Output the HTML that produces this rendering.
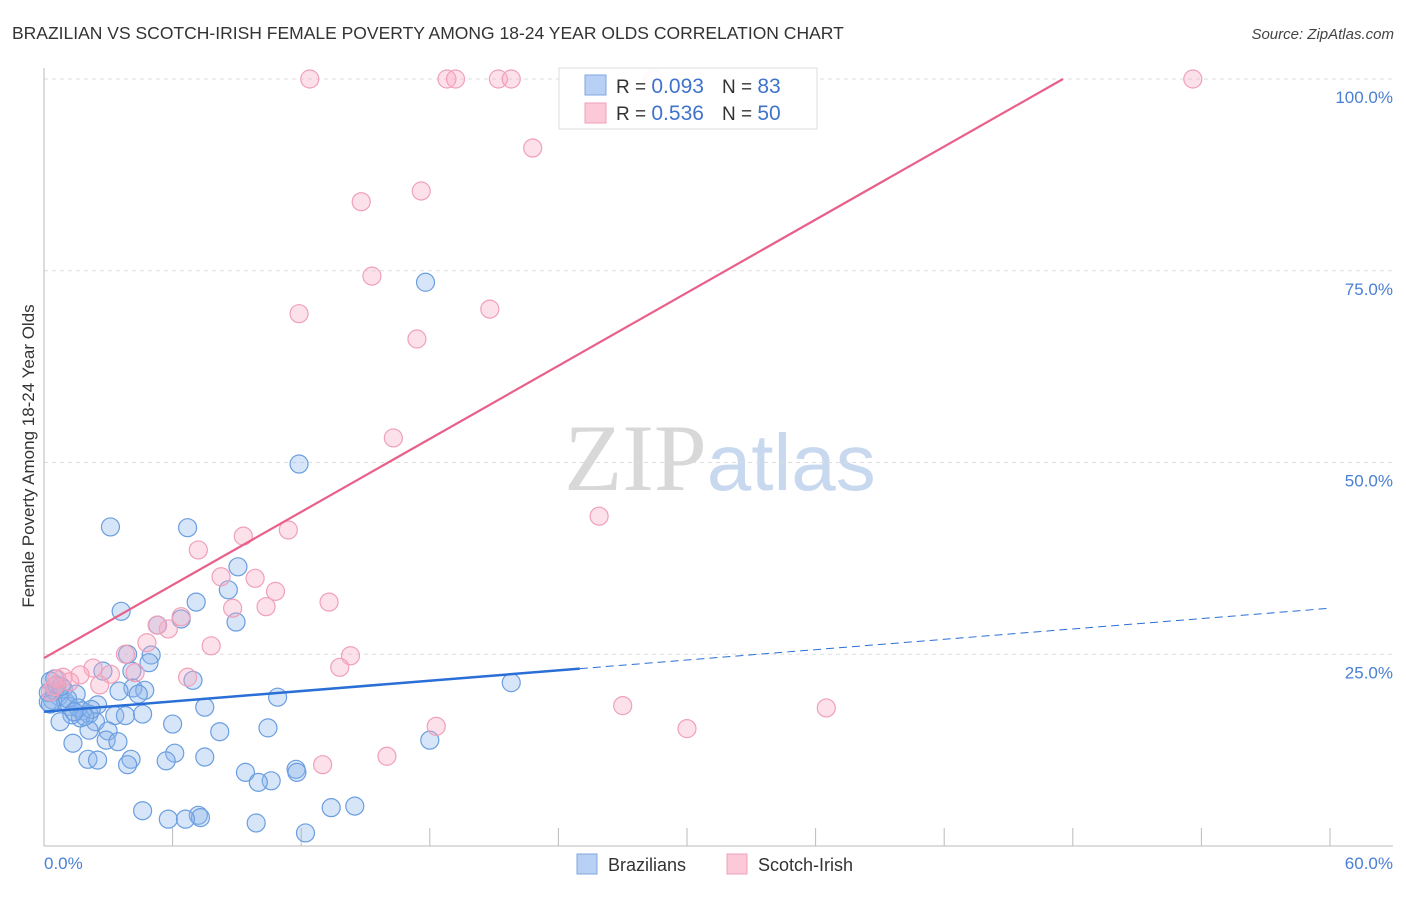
<!DOCTYPE html>
<html><head><meta charset="utf-8"><style>
body{margin:0;background:#fff;font-family:"Liberation Sans",sans-serif}
svg text{font-family:"Liberation Sans",sans-serif}
</style></head><body>
<svg id="chart" width="1406" height="892" xmlns="http://www.w3.org/2000/svg">
<text x="12" y="39" font-size="17.5" fill="#333">BRAZILIAN VS SCOTCH-IRISH FEMALE POVERTY AMONG 18-24 YEAR OLDS CORRELATION CHART</text>
<text x="1394" y="39" font-size="15" fill="#444" text-anchor="end" font-style="italic">Source: ZipAtlas.com</text>
<text x="720" y="490" font-size="95" text-anchor="middle"><tspan font-family="Liberation Serif" fill="#d8d8d8">ZIP</tspan><tspan fill="#c8d8ee" font-size="80">atlas</tspan></text>
<g id="grid"></g><g id="axes"></g><g id="pts"></g><g id="lines"></g>
<text transform="translate(34,456) rotate(-90)" font-size="17" fill="#333" text-anchor="middle">Female Poverty Among 18-24 Year Olds</text>
<text x="44" y="869" font-size="17" fill="#4a7fd4">0.0%</text>
<text x="1393" y="869" font-size="17" fill="#4a7fd4" text-anchor="end">60.0%</text>
<g>
<rect x="559" y="68" width="258" height="61" fill="#fff" fill-opacity="0.9" stroke="#ddd"/>
<rect x="585" y="75" width="21" height="20" fill="#b8d0f4" stroke="#7fa6e0"/>
<rect x="585" y="103" width="21" height="20" fill="#fbc9d7" stroke="#f0a0b8"/>
<text x="616" y="93" font-size="19" fill="#333">R = <tspan fill="#3f73cc" font-size="21">0.093</tspan><tspan dx="18">N = </tspan><tspan fill="#3f73cc" font-size="21">83</tspan></text>
<text x="616" y="120" font-size="19" fill="#333">R = <tspan fill="#3f73cc" font-size="21">0.536</tspan><tspan dx="18">N = </tspan><tspan fill="#3f73cc" font-size="21">50</tspan></text>
</g>
<g>
<rect x="577" y="854" width="20" height="20" fill="#b8d0f4" stroke="#7fa6e0"/>
<text x="608" y="871" font-size="18" fill="#333">Brazilians</text>
<rect x="727" y="854" width="20" height="20" fill="#fbc9d7" stroke="#f0a0b8"/>
<text x="758" y="871" font-size="18" fill="#333">Scotch-Irish</text>
</g>
</svg>
<script>
const blueX=[17.8,11.9,3.1,6.7,9.05,8.6,7.1,3.6,8.96,6.4,5.3,3.9,5.0,4.9,4.1,2.75,6.95,21.8,4.15,4.7,3.5,4.4,10.9,0.3,0.5,0.7,0.2,1.0,1.2,2.5,7.5,1.8,2.1,1.3,3.3,3.8,4.6,1.7,0.75,2.4,6.0,10.45,2.1,2.99,8.2,2.9,3.45,18.0,1.35,6.1,4.06,2.05,2.5,7.5,5.7,3.9,11.76,11.8,9.4,10.6,10.0,4.6,13.4,14.5,7.2,7.3,5.8,6.6,9.9,12.2,0.4,0.9,1.5,0.2,0.6,1.1,0.3,1.6,0.8,2.2,1.9,0.5,1.4];
const blueY=[73.5,49.8,41.6,41.5,36.4,33.4,31.8,30.6,29.2,29.6,28.8,25.0,24.9,23.9,22.8,22.8,21.6,21.3,20.6,20.3,20.2,19.8,19.4,21.5,20.2,19.5,18.8,18.8,18.2,18.4,18.1,17.6,17.2,17.1,17.0,17.0,17.2,16.7,16.2,16.2,15.9,15.4,15.1,15.0,14.9,13.8,13.6,13.8,13.4,12.1,11.3,11.3,11.2,11.6,11.1,10.6,10.0,9.6,9.6,8.5,8.3,4.6,5.0,5.2,4.0,3.7,3.5,3.5,3.0,1.7,19.0,20.5,19.8,20.0,21.0,19.2,18.5,18.0,20.8,17.8,16.9,21.8,17.5];
const pinkX=[12.4,18.8,19.2,21.2,21.8,28.4,53.6,22.8,17.6,14.8,15.3,11.9,20.8,17.4,16.3,25.9,11.4,9.3,7.2,8.26,9.85,10.8,13.3,8.8,10.36,6.4,5.8,5.28,4.8,7.8,3.8,14.3,13.8,2.29,3.1,4.25,1.68,0.89,1.2,6.7,2.6,0.5,0.3,27.0,36.5,18.3,30.0,16.0,13.0,0.6];
const pinkY=[100,100,100,100,100,100,100,91,85.4,84,74.3,69.4,70,66.1,53.2,43,41.2,40.4,38.6,35.1,34.9,33.2,31.8,31.0,31.2,29.9,28.3,28.8,26.5,26.1,25.0,24.8,23.3,23.2,22.4,22.6,22.3,22.0,21.4,22.0,21.0,20.8,20.1,18.3,18.0,15.6,15.3,11.7,10.6,21.8];
const yTicks=[25,50,75,100];
const yTickLabels=["25.0%","50.0%","75.0%","100.0%"];
const xTicks=[0,6,12,18,24,30,36,42,48,54,60];
const blueFit=[17.5,31.0];
const pinkFit=[24.5,1.588];
const X0=44,X1=1330,Y0=846,Y100=79;
const sx=v=>X0+v*(X1-X0)/60, sy=v=>Y0-v*(Y0-Y100)/100;
const NS="http://www.w3.org/2000/svg";
function mk(tag,parent,attrs){const e=document.createElementNS(NS,tag);for(const k in attrs)e.setAttribute(k,attrs[k]);document.getElementById(parent).appendChild(e);return e;}
yTicks.forEach((t,i)=>{
 const g=mk('line','grid',{x1:X0,x2:1393,y1:sy(t),y2:sy(t),stroke:'#ddd','stroke-dasharray':'4,4'});
 
 
 const l=mk('text','grid',{x:1393,y:sy(t)+24,'font-size':17,fill:'#4a7fd4','text-anchor':'end'});
 l.textContent=yTickLabels[i];
 
 
});
const ya=mk('line','axes',{x1:X0,x2:X0,y1:68,y2:Y0,stroke:'#bbb'});


const xa=mk('line','axes',{x1:X0,x2:1393,y1:Y0,y2:Y0,stroke:'#bbb'});


xTicks.forEach(t=>{
 const k=mk('line','axes',{x1:sx(t),x2:sx(t),y1:828,y2:Y0,stroke:'#bbb'});
 
 
});
blueX.forEach((x,i)=>{
 const c=mk('circle','pts',{cx:sx(x),cy:sy(blueY[i]),r:9,fill:'rgba(140,180,235,0.35)',stroke:'#6a9ee0','stroke-width':1.2});
 
 
});
pinkX.forEach((x,i)=>{
 const c=mk('circle','pts',{cx:sx(x),cy:sy(pinkY[i]),r:9,fill:'rgba(248,170,195,0.35)',stroke:'#f0a0b8','stroke-width':1.2});
 
 
});
const bAt=x=>blueFit[0]+(blueFit[1]-blueFit[0])*x/60;
const b1=mk('line','lines',{x1:sx(0),y1:sy(bAt(0)),x2:sx(25),y2:sy(bAt(25)),stroke:'#2a6fd6','stroke-width':2.5});


const b2=mk('line','lines',{x1:sx(25),y1:sy(bAt(25)),x2:sx(60),y2:sy(bAt(60)),stroke:'#2a6fd6','stroke-width':1,'stroke-dasharray':'8,5'});


const pEnd=(100-pinkFit[0])/pinkFit[1];
const p=mk('line','lines',{x1:sx(0),y1:sy(pinkFit[0]),x2:sx(pEnd),y2:sy(100),stroke:'#e8608a','stroke-width':2.2});


</script>
</body></html>
